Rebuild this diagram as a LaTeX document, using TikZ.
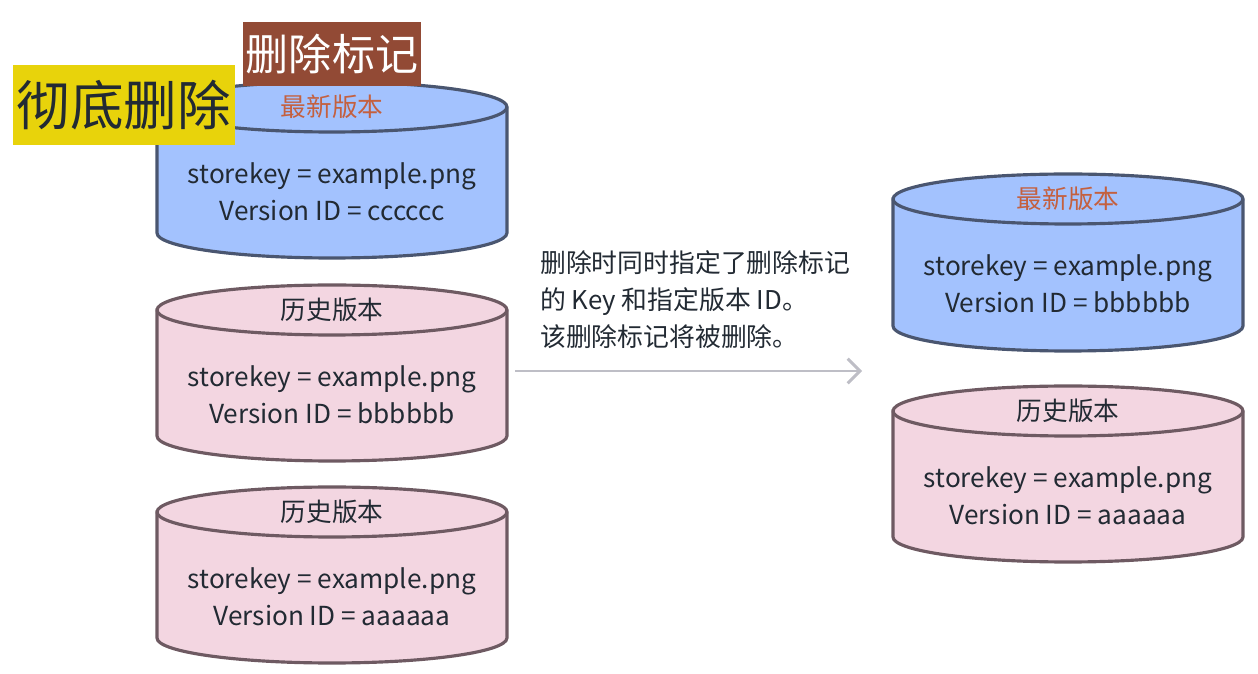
\documentclass[tikz,border=0pt]{standalone}
\usepackage{fontspec}
\setmainfont{Noto Sans CJK SC}
\usepackage{tikz}
\usetikzlibrary{arrows.meta,positioning}
\definecolor{newfill}{HTML}{A3C2FE}
\definecolor{newline}{HTML}{4A5670}
\definecolor{oldfill}{HTML}{F3D6E1}
\definecolor{oldline}{HTML}{6E5A62}
\definecolor{vtitle}{HTML}{C4603F}
\definecolor{txtc}{HTML}{222A33}
\definecolor{tagy}{HTML}{E8D30B}
\definecolor{tagb}{HTML}{924A35}
\definecolor{arrc}{HTML}{BEBEC6}
% cylinder: centre x, top y, bottom y, colour prefix
\newcommand{\dbcyl}[4]{%
  \filldraw[fill=#4fill,draw=#4line,line width=1.8pt]
    (#1-175,#2) -- (#1-175,#3) arc (180:360:3.5cm and 0.5cm)
    -- (#1+175,#2) arc (0:180:3.5cm and 0.5cm) -- cycle;
  \draw[#4line,line width=1.8pt] (#1-175,#2) arc (180:360:3.5cm and 0.5cm);}

\begin{document}
\begin{tikzpicture}[x=0.02cm,y=0.02cm,>=Stealth,
    vtitle/.style={font=\fontsize{14.6}{17}\selectfont},
    vbody/.style={font=\fontsize{14.9}{21}\selectfont,align=center,text=txtc}]
  \useasboundingbox (0,0) rectangle (1258,673);
  % old state (left column)
  \dbcyl{332}{566}{440}{new}
  \node[vtitle,text=vtitle] (t1) at (332,566) {最新版本};
  \node[vbody] (b1) at (332,481) {storekey = example.png\\Version ID = cccccc};
  \dbcyl{332}{363}{237}{old}
  \node[vtitle,text=txtc] (t2) at (332,363) {历史版本};
  \node[vbody] (b2) at (332,278) {storekey = example.png\\Version ID = bbbbbb};
  \dbcyl{332}{161}{35}{old}
  \node[vtitle,text=txtc] (t3) at (332,161) {历史版本};
  \node[vbody] (b3) at (332,76) {storekey = example.png\\Version ID = aaaaaa};
  % tags
  \node[fill=tagy,text=txtc,inner sep=0,minimum width=4.44cm,minimum height=1.6cm,
        font=\fontsize{30.5}{32}\selectfont] (purge) at (124,568) {彻底删除};
  \node[fill=tagb,text=white,inner sep=0,minimum width=3.56cm,minimum height=1.28cm,
        font=\fontsize{24.5}{26}\selectfont] (marker) at (332,619) {删除标记};
  % transition
  \coordinate (arrS) at (515,302);
  \coordinate (arrE) at (862,302);
  \draw[arrc,line width=1.7pt,-{Straight Barb[length=7pt,width=14pt]}] (arrS) -- (arrE);
  \node[anchor=west,align=left,text=txtc,font=\fontsize{14.7}{21}\selectfont] (note)
        at (534,373) {删除时同时指定了删除标记\\的 Key 和指定版本 ID。\\该删除标记将被删除。};
  % new state (right column)
  \dbcyl{1068}{474}{347}{new}
  \node[vtitle,text=vtitle] (t4) at (1068,474) {最新版本};
  \node[vbody] (b4) at (1068,389) {storekey = example.png\\Version ID = bbbbbb};
  \dbcyl{1068}{262}{136}{old}
  \node[vtitle,text=txtc] (t5) at (1068,262) {历史版本};
  \node[vbody] (b5) at (1068,177) {storekey = example.png\\Version ID = aaaaaa};
\end{tikzpicture}
\end{document}
